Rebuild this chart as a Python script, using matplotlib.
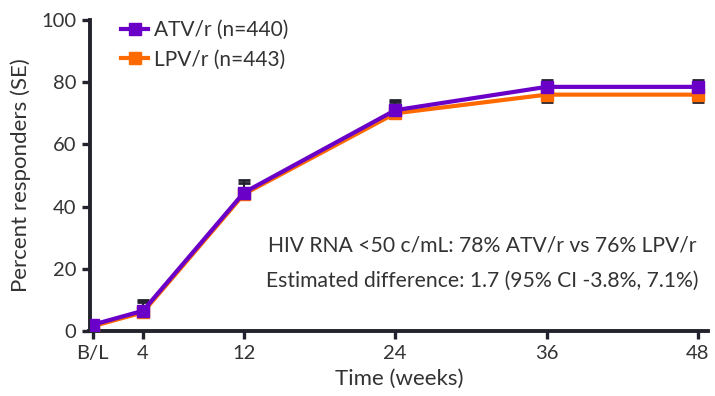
import matplotlib
matplotlib.use("Agg")
import matplotlib.pyplot as plt

plt.rcParams['font.family'] = ['Lato', 'DejaVu Sans']

weeks = [0, 4, 12, 24, 36, 48]
tick_labels = ["B/L", "4", "12", "24", "36", "48"]

atv_label = "ATV/r (n=440)"
atv_pct = [2.0, 6.5, 44.5, 71.0, 78.5, 78.5]
atv_err_lo = [0.0, 0.0, 0.0, 0.0, 0.0, 0.0]
atv_err_hi = [1.0, 3.5, 3.9, 3.3, 2.2, 2.2]

lpv_label = "LPV/r (n=443)"
lpv_pct = [1.5, 6.0, 44.0, 70.0, 76.0, 76.0]
lpv_err_lo = [0.0, 0.0, 0.0, 0.0, 2.3, 2.3]
lpv_err_hi = [1.0, 3.2, 3.6, 3.7, 0.0, 0.0]

summary_lines = [
    "HIV RNA <50 c/mL: 78% ATV/r vs 76% LPV/r",
    "Estimated difference: 1.7 (95% CI -3.8%, 7.1%)",
]

PURPLE = "#6a00c8"
ORANGE = "#ff6a00"
DARK = "#23232e"
TEXT = "#333333"

fig = plt.figure(figsize=(7.15, 3.96), dpi=100)
ax = fig.add_axes([90 / 715, 1 - 331 / 396, 618 / 715, 311 / 396])

# error bars sit underneath the lines and markers
for pct, lo, hi in [(lpv_pct, lpv_err_lo, lpv_err_hi), (atv_pct, atv_err_lo, atv_err_hi)]:
    ax.errorbar(weeks, pct, yerr=[lo, hi], fmt="none", ecolor=DARK, elinewidth=1.5,
                capsize=4.2, capthick=2.0, zorder=1)

for pct, color, label, z in [
    (lpv_pct, ORANGE, lpv_label, 3),
    (atv_pct, PURPLE, atv_label, 4),
]:
    ax.plot(weeks, pct, color=color, lw=3.0, marker="s", ms=8,
            mec=color, mfc=color, label=label, zorder=z)

ax.set_xlim(-0.2, 48.8)
ax.set_ylim(0, 100)
ax.set_xticks(weeks)
ax.set_xticklabels(tick_labels)
ax.set_yticks(range(0, 101, 20))

for side in ("top", "right"):
    ax.spines[side].set_visible(False)
for side in ("left", "bottom"):
    ax.spines[side].set_linewidth(2.8)
    ax.spines[side].set_color(DARK)
ax.spines["bottom"].set_bounds(-0.25, 48.8)
ax.tick_params(axis="both", direction="out", length=6, width=2.4, color=DARK,
               labelsize=14.5, labelcolor=TEXT, pad=4)

ax.set_xlabel("Time (weeks)", fontsize=16, color=TEXT, labelpad=5)
ax.set_ylabel("Percent responders (SE)", fontsize=16, color=TEXT, labelpad=7)

handles, labels = ax.get_legend_handles_labels()
ax.legend(handles[::-1], labels[::-1], loc="upper left", bbox_to_anchor=(0.02, 1.06),
          frameon=False, fontsize=15, handlelength=1.3, handletextpad=0.3,
          labelspacing=0.45, labelcolor=TEXT)

ax.text(0.635, 0.275, summary_lines[0], transform=ax.transAxes, ha="center",
        va="center", fontsize=15.2, color=TEXT)
ax.text(0.635, 0.162, summary_lines[1], transform=ax.transAxes, ha="center",
        va="center", fontsize=15.2, color=TEXT)

fig.savefig("out.png", dpi=100)
